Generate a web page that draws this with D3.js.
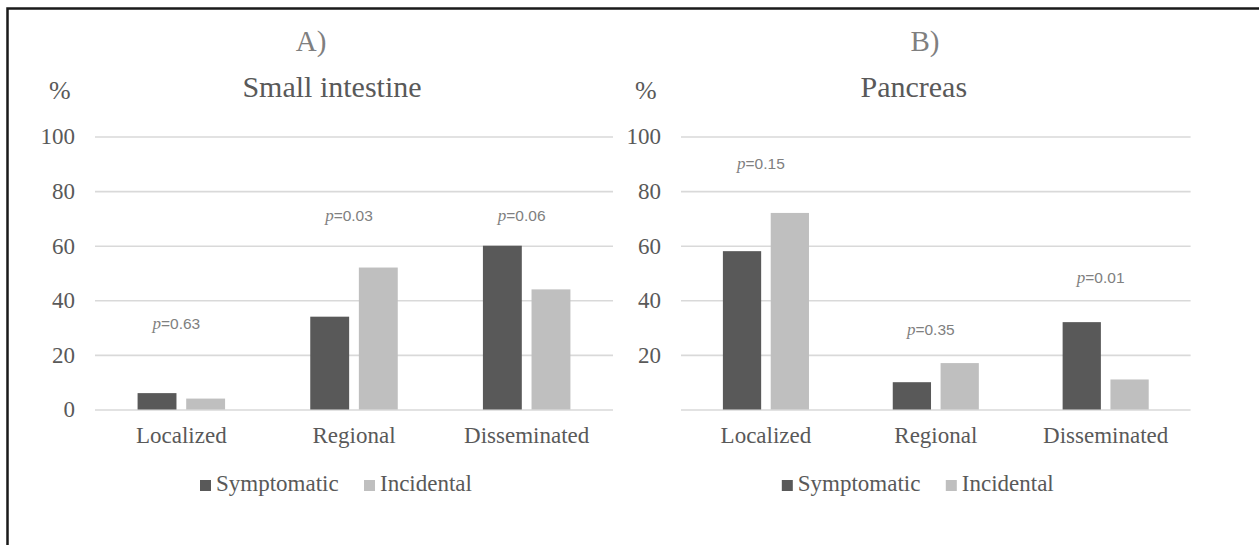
<!DOCTYPE html>
<html>
<head>
<meta charset="utf-8">
<script src="https://cdn.jsdelivr.net/npm/d3@7"></script>
<style>
  body { margin: 0; background: #fff; }
</style>
</head>
<body>
<div id="my_dataviz"></div>
<script>
// data
const categories = ["Localized", "Regional", "Disseminated"];
const seriesNames = ["Symptomatic", "Incidental"];
const intestineSymptomatic = [6, 34, 60];
const intestineIncidental = [4, 52, 44];
const pancreasSymptomatic = [58, 10, 32];
const pancreasIncidental = [72, 17, 11];
const intestinePValues = ["0.63", "0.03", "0.06"];
const pancreasPValues = ["0.15", "0.35", "0.01"];
// height (in % units) where each p label sits
const intestinePAt = [31.5, 71, 71];
const pancreasPAt = [90, 29, 48];
const yTicks = [0, 20, 40, 60, 80, 100];

const colors = ["#595959", "#bfbfbf"];
const serif = "'Liberation Serif', 'Times New Roman', Times, 'DejaVu Serif', serif";
const sans = "'Liberation Sans', Arial, sans-serif";
const W = 1259, H = 545;

const svg = d3.select("#my_dataviz")
  .append("svg")
  .attr("width", W)
  .attr("height", H)
  .attr("font-family", serif);

// outer frame (only top and left edges are visible)
svg.append("path")
  .attr("d", `M7.5,${H + 5} V8.5 H${W + 5}`)
  .attr("fill", "none")
  .attr("stroke", "#1a1a1a")
  .attr("stroke-width", 2.5);

function drawPanel(opts) {
  const x0 = opts.left, x1 = opts.right;
  const yBottom = 409.5, yTop = 136.5;
  const center = (x0 + x1) / 2;

  const x = d3.scaleBand()
    .domain(categories)
    .range([x0, x1]);

  const y = d3.scaleLinear()
    .domain([0, 100])
    .range([yBottom, yTop]);

  // bar width from excel-like gap width 219% and overlap -25%
  const bw = x.bandwidth() / 4.44;
  const groupW = bw * 2.25;
  const xs = d3.scaleBand()
    .domain(seriesNames)
    .range([0, groupW])
    .paddingInner(0.2);

  const g = svg.append("g");

  // gridlines
  g.append("g")
    .attr("transform", `translate(${x0},0)`)
    .call(d3.axisLeft(y).tickValues(yTicks).tickSize(-(x1 - x0)).tickFormat(""))
    .call(a => a.select(".domain").remove())
    .call(a => a.selectAll(".tick line").attr("stroke", "#d9d9d9").attr("stroke-width", 1.6));

  // y tick labels
  g.append("g")
    .attr("transform", `translate(${x0},0)`)
    .call(d3.axisLeft(y).tickValues(opts.labelTicks).tickSize(0).tickPadding(20))
    .attr("font-family", serif)
    .attr("font-size", 23)
    .call(a => a.select(".domain").remove())
    .call(a => a.selectAll("text").attr("fill", "#595959"));

  // category labels
  g.append("g")
    .attr("transform", `translate(0,${yBottom})`)
    .call(d3.axisBottom(x).tickSize(0).tickPadding(17))
    .attr("font-family", serif)
    .attr("font-size", 23)
    .call(a => a.select(".domain").remove())
    .call(a => a.selectAll("text").attr("fill", "#595959"));

  // bars
  const rows = categories.map((c, i) => ({ cat: c, vals: [opts.sym[i], opts.inc[i]] }));
  const grp = g.selectAll(".grp")
    .data(rows)
    .join("g")
    .attr("transform", d => `translate(${x(d.cat) + (x.bandwidth() - groupW) / 2},0)`);
  grp.selectAll("rect")
    .data(d => d.vals.map((v, j) => ({ s: seriesNames[j], v: v, j: j })))
    .join("rect")
    .attr("x", d => xs(d.s))
    .attr("y", d => y(d.v))
    .attr("width", xs.bandwidth())
    .attr("height", d => yBottom - y(d.v))
    .attr("fill", d => colors[d.j]);

  // p value labels
  const pl = g.selectAll(".plab")
    .data(categories)
    .join("text")
    .attr("x", d => x(d) + x.bandwidth() / 2 - 5)
    .attr("y", (d, i) => y(opts.pAt[i]) + 5)
    .attr("text-anchor", "middle")
    .attr("fill", "#808080")
    .attr("font-size", 15.5);
  pl.append("tspan")
    .attr("font-style", "italic")
    .attr("font-family", serif)
    .attr("font-size", 17)
    .text("p");
  pl.append("tspan")
    .attr("font-family", sans)
    .text((d, i) => "=" + opts.pvals[i]);

  // "%" label
  g.append("text")
    .attr("x", x0 - 46)
    .attr("y", 99)
    .attr("fill", "#595959")
    .attr("font-size", 26)
    .text("%");

  // panel letter and title
  g.append("text")
    .attr("x", opts.letterX)
    .attr("y", 51)
    .attr("text-anchor", "middle")
    .attr("fill", "#7f7f7f")
    .attr("font-size", 29)
    .text(opts.letter);

  g.append("text")
    .attr("x", center - 22)
    .attr("y", 97)
    .attr("text-anchor", "middle")
    .attr("fill", "#595959")
    .attr("font-size", 30)
    .text(opts.title);

  // legend
  const lg = g.append("g")
    .attr("transform", `translate(${center - 154},0)`);
  const offsets = [0, 164];
  seriesNames.forEach((s, j) => {
    lg.append("rect")
      .attr("x", offsets[j])
      .attr("y", 480)
      .attr("width", 11)
      .attr("height", 11)
      .attr("fill", colors[j]);
    lg.append("text")
      .attr("x", offsets[j] + 16)
      .attr("y", 491)
      .attr("fill", "#595959")
      .attr("font-size", 23)
      .text(s);
  });
}

drawPanel({
  left: 95, right: 613,
  sym: intestineSymptomatic, inc: intestineIncidental,
  pvals: intestinePValues, pAt: intestinePAt,
  labelTicks: yTicks,
  letter: "A)", letterX: 311,
  title: "Small intestine"
});

drawPanel({
  left: 681, right: 1190.6,
  sym: pancreasSymptomatic, inc: pancreasIncidental,
  pvals: pancreasPValues, pAt: pancreasPAt,
  labelTicks: yTicks.filter(d => d > 0),
  letter: "B)", letterX: 925,
  title: "Pancreas"
});
</script>
</body>
</html>
